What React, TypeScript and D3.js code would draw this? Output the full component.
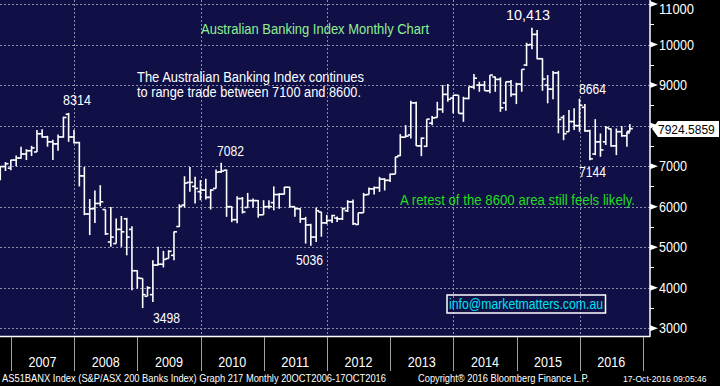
import React from "react";
import * as d3 from "d3";

// monthly bars, Oct 2006 .. Oct 2016
const months = d3.timeMonth.range(new Date(2006, 9, 1), new Date(2016, 10, 1));

const opens = [
  6700, 6990, 6950, 7150, 7200, 7300, 7380, 7350, 7800, 7720,
  7600, 7550, 7720, 8280, 7720, 7580, 6760, 5820, 5950, 6080,
  5930, 5130, 5090, 5440, 5700, 5440, 4420, 4230, 3790, 3830,
  4560, 4580, 4720, 4800, 5510, 6040, 6600, 6500, 6370, 6410,
  6230, 6450, 6860, 6900, 6000, 5680, 6200, 5980, 6150, 6150,
  5800, 6000, 6100, 6300, 6310, 6480, 6000, 5950, 5700, 5550,
  5250, 5870, 5600, 5660, 5720, 5700, 5900, 6120, 5560, 5850,
  6300, 6440, 6470, 6680, 6650, 6803, 7260, 7715, 7770, 8560,
  7500, 7490, 8060, 8200, 8400, 8770, 8680, 8750, 8300, 8670,
  8950, 9000, 9000, 8860, 9200, 9140, 8560, 9082, 8770, 9025,
  9494, 10000, 10250, 9650, 9000, 8900, 9300, 8200, 7850, 8100,
  8000, 8450, 7870, 7300, 7600, 7600, 7920, 7500, 7850, 7750, 7860,
];
const highs = [
  7000, 7100, 7160, 7260, 7480, 7420, 7500, 7890, 7910, 7750,
  7650, 7780, 8220, 8314, 7890, 7600, 6980, 6190, 6400, 6530,
  5930, 5995, 5710, 5770, 5725, 5520, 4430, 4230, 4040, 4680,
  5010, 4910, 4925, 5390, 6060, 6750, 6980, 6737, 6655, 6690,
  6432, 6920, 7082, 6918, 6010, 6260, 6240, 6340, 6200, 6160,
  6160, 6160, 6500, 6330, 6490, 6490, 6000, 5960, 5750, 5580,
  5980, 5870, 5800, 5800, 5760, 5980, 6160, 6180, 5850, 6340,
  6474, 6500, 6737, 6700, 6820, 7230, 7790, 8012, 8613, 8588,
  7710, 8160, 8235, 8588, 9000, 9025, 8750, 8750, 8712, 8959,
  9272, 9082, 9100, 9247, 9210, 9190, 9082, 9124, 9057, 9388,
  10045, 10413, 10358, 9660, 9247, 9350, 9350, 8260, 8383, 8427,
  8664, 8531, 7900, 8160, 7807, 7988, 7930, 7930, 7988, 7847, 8038,
];
const lows = [
  6650, 6880, 6900, 7000, 7180, 7150, 7250, 7350, 7700, 7480,
  7150, 7380, 7700, 7600, 7560, 6500, 5790, 5300, 5600, 6010,
  5300, 5010, 5090, 5010, 4800, 3940, 3980, 3498, 3790, 3650,
  4550, 4500, 4720, 4680, 5500, 5980, 6370, 6080, 6160, 6180,
  5930, 6450, 6835, 5750, 5620, 5590, 5830, 5980, 5980, 5730,
  5800, 5950, 5910, 5950, 6300, 5980, 5750, 5600, 5090, 5036,
  5130, 5260, 5570, 5600, 5620, 5670, 5870, 5550, 5550, 5850,
  6300, 6300, 6366, 6400, 6610, 6803, 7247, 7710, 7685, 7494,
  7247, 7477, 8012, 8200, 8316, 8588, 8300, 8300, 8094, 8650,
  8895, 8835, 8860, 8796, 8835, 8340, 8366, 8712, 8531, 8835,
  9470, 9882, 9635, 8860, 8550, 8650, 7810, 7640, 7847, 7889,
  7847, 7847, 7144, 7272, 7230, 7519, 7477, 7272, 7724, 7477, 7850,
];
const closes = [
  6990, 7060, 7150, 7200, 7300, 7380, 7450, 7800, 7720, 7600,
  7550, 7720, 8200, 7720, 7580, 6760, 5820, 5950, 6080, 6120,
  5330, 5250, 5440, 5380, 5250, 4420, 4240, 3830, 4000, 4560,
  4580, 4700, 4900, 5380, 6010, 6580, 6600, 6450, 6410, 6230,
  6410, 6850, 6880, 6000, 5680, 6200, 5870, 6150, 6150, 5800,
  6000, 6000, 6300, 6310, 6480, 6000, 5950, 5700, 5550, 5250,
  5900, 5600, 5660, 5780, 5700, 5950, 6120, 5580, 5850, 6290,
  6440, 6470, 6680, 6650, 6800, 7230, 7715, 7740, 8560, 7500,
  7690, 8160, 8190, 8400, 8770, 8650, 8750, 8300, 8670, 8959,
  9170, 9000, 8860, 9247, 9140, 8440, 9082, 8770, 9025, 9388,
  9990, 10250, 9650, 9150, 8900, 9300, 8150, 7800, 8100, 8000,
  8500, 7870, 7180, 7600, 7400, 7950, 7500, 7850, 7750, 7820, 7924.5859,
];

const yTicks = [3000, 4000, 5000, 6000, 7000, 8000, 9000, 10000, 11000];
const yMinor = [3500, 4500, 5500, 6500, 7500, 8500, 9500, 10500];
const yearLabels = ["2007", "2008", "2009", "2010", "2011", "2012", "2013", "2014", "2015", "2016"];
const gridYears = [2008, 2010, 2012, 2014, 2016];
const lastValue = "7924.5859";

// hand-placed labels on the chart
const callouts = [
  { text: "8314", x: 63, y: 105, w: 28 },
  { text: "3498", x: 153, y: 323, w: 27 },
  { text: "7082", x: 217, y: 156, w: 27 },
  { text: "5036", x: 296, y: 265, w: 27 },
  { text: "10,413", x: 506, y: 20, w: 44 },
  { text: "8664", x: 579, y: 94, w: 27 },
  { text: "7144", x: 579, y: 177, w: 27 },
];

const W = 720;
const H = 386;
const plotRight = 650;
const plotBottom = 336;
const navy = "#100f46";
const font = "'Liberation Sans', Arial, sans-serif";

export default function App() {
  const x = d3
    .scaleTime()
    .domain([new Date(2007, 0, 1), new Date(2017, 0, 1)])
    .range([11, 643]);
  const y = d3.scaleLinear().domain([3000, 11000]).range([328.3, 4]);

  const barDate = (i: number) =>
    i < months.length - 1
      ? d3.timeDay.offset(d3.timeMonth.offset(months[i], 1), -1)
      : new Date(2016, 9, 17);

  const yearStarts = d3.range(2007, 2018).map((yr) => new Date(yr, 0, 1));

  return (
    <svg
      width={W}
      height={H}
      style={{ position: "absolute", left: 0, top: 0, display: "block" }}
      fontFamily={font}
    >
      <rect width={W} height={H} fill="#000" />
      <rect x={0} y={0} width={plotRight} height={plotBottom} fill={navy} />

      {/* grid */}
      <g stroke="#8e8ea8" strokeWidth={1} strokeDasharray="2,2">
        {yTicks.map((t) => (
          <line key={t} x1={0} x2={plotRight} y1={Math.round(y(t)) + 0.5} y2={Math.round(y(t)) + 0.5} />
        ))}
        {gridYears.map((yr) => {
          const gx = Math.round(x(new Date(yr, 0, 1))) + 0.5;
          return <line key={yr} x1={gx} x2={gx} y1={0} y2={plotBottom} />;
        })}
      </g>

      {/* OHLC bars */}
      <g stroke="#fff" strokeWidth={1.6}>
        {months.map((m, i) => {
          const bx = x(barDate(i));
          return (
            <g key={i}>
              <line x1={bx} x2={bx} y1={y(highs[i])} y2={y(lows[i])} />
              <line x1={bx - 3} x2={bx} y1={y(opens[i])} y2={y(opens[i])} />
              <line x1={bx} x2={bx + 3} y1={y(closes[i])} y2={y(closes[i])} />
            </g>
          );
        })}
      </g>

      {/* plot frame */}
      <line x1={0} x2={plotRight} y1={plotBottom + 0.5} y2={plotBottom + 0.5} stroke="#fff" strokeWidth={1.5} />
      <line x1={plotRight} x2={plotRight} y1={0} y2={plotBottom + 1} stroke="#fff" strokeWidth={1.5} />

      {/* right axis */}
      {yMinor.map((t) => (
        <line key={t} x1={plotRight} x2={plotRight + 4} y1={Math.round(y(t)) + 0.5} y2={Math.round(y(t)) + 0.5} stroke="#fff" />
      ))}
      {yTicks.map((t) => {
        const ty = y(t);
        return (
          <g key={t}>
            <polygon points={`${plotRight},${ty - 3} ${plotRight + 8},${ty} ${plotRight},${ty + 3}`} fill="#fff" />
            {t !== 8000 && (
              <text
                x={659}
                y={Math.max(ty + 5, 14)}
                fill="#fff"
                fontSize={14}
                textLength={String(t).length * 7}
                lengthAdjust="spacingAndGlyphs"
              >
                {t}
              </text>
            )}
          </g>
        );
      })}
      <polygon
        points={`652,${y(7924.5859)} 658,121 719,121 719,137 658,137`}
        fill="#fff"
      />
      <text x={658} y={133.5} fontSize={12} fill="#000">
        {lastValue}
      </text>

      {/* bottom axis */}
      <g stroke="#a0a0a0" strokeWidth={1}>
        {yearStarts.map((d, i) => {
          const tx = Math.round(x(d)) + 0.5;
          return <line key={i} x1={tx} x2={tx} y1={plotBottom + 1} y2={371} />;
        })}
      </g>
      {yearLabels.map((lab, i) => {
        const cx = (x(yearStarts[i]) + x(yearStarts[i + 1])) / 2;
        return (
          <text
            key={lab}
            x={cx}
            y={367}
            fill="#fff"
            fontSize={14}
            textAnchor="middle"
            textLength={28}
            lengthAdjust="spacingAndGlyphs"
          >
            {lab}
          </text>
        );
      })}

      {/* annotations */}
      <text x={201} y={34} fill="#8ff08f" fontSize={14} textLength={228} lengthAdjust="spacingAndGlyphs">
        Australian Banking Index Monthly Chart
      </text>
      <text x={137} y={82} fill="#fff" fontSize={14} textLength={227} lengthAdjust="spacingAndGlyphs">
        The Australian Banking Index continues
      </text>
      <text x={137} y={97} fill="#fff" fontSize={14} textLength={224} lengthAdjust="spacingAndGlyphs">
        to range trade between 7100 and 8600.
      </text>
      <text x={400} y={205} fill="#22dd22" fontSize={14} textLength={235} lengthAdjust="spacingAndGlyphs">
        A retest of the 8600 area still feels likely.
      </text>
      {callouts.map((c) => (
        <text key={c.text} x={c.x} y={c.y} fill="#fff" fontSize={14} textLength={c.w} lengthAdjust="spacingAndGlyphs">
          {c.text}
        </text>
      ))}

      <rect x={447} y={295} width={158.5} height={18} fill="none" stroke="#fff" strokeWidth={1.5} />
      <text x={449} y={309} fill="#00e4f0" fontSize={14} textLength={154} lengthAdjust="spacingAndGlyphs">
        info@marketmatters.com.au
      </text>

      {/* footer */}
      <text x={2} y={382} fill="#fff" fontSize={10.5} textLength={384} lengthAdjust="spacingAndGlyphs">
        AS51BANX Index (S&amp;P/ASX 200 Banks Index) Graph 217  Monthly 20OCT2006-17OCT2016
      </text>
      <text x={418} y={382} fill="#fff" fontSize={10.5} textLength={171} lengthAdjust="spacingAndGlyphs">
        Copyright® 2016 Bloomberg Finance L.P.
      </text>
      <text x={623} y={382} fill="#fff" fontSize={8.6}>
        17-Oct-2016 09:05:46
      </text>
    </svg>
  );
}
